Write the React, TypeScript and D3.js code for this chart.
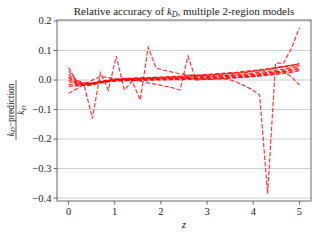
import React from "react";
import * as d3 from "d3";

const zValues = [0, 0.172, 0.345, 0.517, 0.69, 0.862, 1.034, 1.207, 1.379, 1.552, 1.724, 1.897, 2.069, 2.241, 2.414, 2.586, 2.759, 2.931, 3.103, 3.276, 3.448, 3.621, 3.793, 3.966, 4.138, 4.31, 4.483, 4.655, 4.828, 5.0];

const modelA = [0.042, -0.004, -0.022, -0.13, 0.025, -0.034, 0.081, -0.034, -0.004, -0.068, 0.111, 0.04, 0.033, 0.027, 0.021, 0.017, 0.016, 0.016, 0.017, 0.019, 0.021, 0.023, 0.025, 0.028, 0.031, 0.035, 0.04, 0.045, 0.05, 0.055];
const modelB = [-0.045, -0.03, -0.014, 0.0, 0.012, 0.008, 0.004, 0.002, 0.0, -0.004, -0.01, -0.015, -0.02, -0.026, -0.034, 0.081, 0.0, 0.002, 0.003, 0.005, 0.006, 0.008, 0.01, 0.012, 0.015, 0.018, 0.022, 0.026, 0.03, 0.035];
const modelD = [0.012, -0.008, -0.013, -0.011, -0.006, -0.002, 0.001, 0.003, 0.004, 0.005, 0.006, 0.006, 0.006, 0.006, 0.006, 0.005, 0.004, 0.003, 0.003, 0.003, 0.003, -0.006, -0.018, -0.032, -0.05, -0.385, 0.057, 0.057, 0.108, 0.177];
const modelE = [0.0, -0.01, -0.014, -0.012, -0.007, -0.003, 0.0, 0.002, 0.003, 0.004, 0.005, 0.006, 0.007, 0.008, 0.009, 0.01, 0.011, 0.012, 0.013, 0.014, 0.015, 0.016, 0.017, 0.018, 0.021, 0.025, 0.028, 0.028, 0.011, -0.017];
const modelC1 = [0.02, -0.005, -0.012, -0.01, -0.004, 0.0, 0.003, 0.005, 0.006, 0.007, 0.008, 0.009, 0.01, 0.011, 0.012, 0.013, 0.015, 0.016, 0.018, 0.02, 0.022, 0.024, 0.027, 0.03, 0.033, 0.037, 0.041, 0.046, 0.051, 0.056];
const modelC2 = [0.008, -0.012, -0.016, -0.013, -0.007, -0.003, 0.0, 0.002, 0.003, 0.004, 0.005, 0.005, 0.006, 0.007, 0.008, 0.009, 0.01, 0.011, 0.012, 0.014, 0.016, 0.018, 0.02, 0.023, 0.026, 0.029, 0.033, 0.037, 0.042, 0.048];
const modelC3 = [-0.005, -0.015, -0.018, -0.015, -0.009, -0.005, -0.002, 0.0, 0.001, 0.002, 0.003, 0.003, 0.004, 0.005, 0.005, 0.006, 0.007, 0.008, 0.009, 0.01, 0.012, 0.013, 0.015, 0.018, 0.021, 0.024, 0.028, 0.032, 0.037, 0.043];
const modelC4 = [-0.015, -0.018, -0.019, -0.016, -0.01, -0.006, -0.003, -0.002, -0.001, 0.0, 0.001, 0.001, 0.002, 0.003, 0.003, 0.004, 0.005, 0.006, 0.007, 0.008, 0.009, 0.01, 0.012, 0.014, 0.017, 0.02, 0.024, 0.028, 0.033, 0.038];
const modelC5 = [-0.022, -0.02, -0.017, -0.013, -0.008, -0.005, -0.003, -0.002, -0.002, -0.001, -0.001, 0.0, 0.0, 0.001, 0.001, 0.002, 0.003, 0.004, 0.005, 0.006, 0.007, 0.008, 0.009, 0.011, 0.013, 0.016, 0.019, 0.022, 0.026, 0.031];
const modelC6 = [0.03, 0.0, -0.01, -0.011, -0.006, -0.002, 0.002, 0.004, 0.006, 0.007, 0.008, 0.009, 0.01, 0.012, 0.013, 0.015, 0.016, 0.018, 0.02, 0.022, 0.024, 0.026, 0.029, 0.032, 0.035, 0.038, 0.042, 0.045, 0.048, 0.05];

const models = [modelC1, modelC2, modelC3, modelC4, modelC5, modelC6, modelE, modelB, modelA, modelD];

const xTicks = [0, 1, 2, 3, 4, 5];
const yTicks = [-0.4, -0.3, -0.2, -0.1, 0.0, 0.1, 0.2];

const FONT = "'Liberation Serif', 'DejaVu Serif', serif";

export default function App() {
  const left = 57, right = 311, top = 20, bottom = 201;
  const x = d3.scaleLinear().domain([-0.25, 5.25]).range([left, right]);
  const y = d3.scaleLinear().domain([-0.41, 0.2034]).range([bottom, top]);
  const line = d3
    .line<number>()
    .x((_, i) => x(zValues[i]))
    .y((d) => y(d));
  const fmt = (v: number) => {
    const s = Math.abs(v).toFixed(1);
    return v < -1e-9 ? "\u2212" + s : s;
  };

  return (
    <svg width={320} height={240} style={{ position: "absolute", left: 0, top: 0, background: "#fff" }}>
      <rect x={0} y={0} width={320} height={240} fill="#fff" />
      {yTicks.map((t) => (
        <line key={"g" + t} x1={left} x2={right} y1={y(t)} y2={y(t)} stroke="#cfcfcf" strokeWidth={1} />
      ))}
      <defs>
        <clipPath id="clip">
          <rect x={left} y={top} width={right - left} height={bottom - top} />
        </clipPath>
      </defs>
      <g clipPath="url(#clip)">
        {models.map((m, i) => (
          <path
            key={i}
            d={line(m) || ""}
            fill="none"
            stroke="#ff0000"
            strokeOpacity={0.8}
            strokeWidth={1.2}
            strokeDasharray="4.4,1.9"
          />
        ))}
      </g>
      <rect x={left} y={top} width={right - left} height={bottom - top} fill="none" stroke="#444" strokeWidth={0.8} />
      {yTicks.map((t) => (
        <g key={"y" + t}>
          <line x1={left - 3.5} x2={left} y1={y(t)} y2={y(t)} stroke="#444" strokeWidth={0.8} />
          <text x={left - 5.5} y={y(t)} dy="0.33em" textAnchor="end" fontFamily={FONT} fontSize={10.5} fill="#222">
            {fmt(t)}
          </text>
        </g>
      ))}
      {xTicks.map((t) => (
        <g key={"x" + t}>
          <line x1={x(t)} x2={x(t)} y1={bottom} y2={bottom + 3.5} stroke="#444" strokeWidth={0.8} />
          <text x={x(t)} y={bottom + 13.5} textAnchor="middle" fontFamily={FONT} fontSize={10.5} fill="#222">
            {t}
          </text>
        </g>
      ))}
      <text x={(left + right) / 2} y={228} textAnchor="middle" fontFamily={FONT} fontSize={11} fontStyle="italic" fill="#222">
        z
      </text>
      <text x={(left + right) / 2} y={15} textAnchor="middle" fontFamily={FONT} fontSize={11} fill="#222">
        Relative accuracy of <tspan fontStyle="italic">k</tspan>
        <tspan fontStyle="italic" fontSize={8} dy={2}>D</tspan>
        <tspan dy={-2}>, multiple 2-region models</tspan>
      </text>
      <g transform="translate(16,110) rotate(-90)">
        <text x={0} y={-2.5} textAnchor="middle" fontFamily={FONT} fontSize={9.5} fill="#222">
          <tspan fontStyle="italic">k</tspan>
          <tspan fontStyle="italic" fontSize={7} dy={1.5}>D</tspan>
          <tspan dy={-1.5}>{"\u2212prediction"}</tspan>
        </text>
        <line x1={-30} x2={30} y1={0} y2={0} stroke="#222" strokeWidth={0.7} />
        <text x={0} y={8} textAnchor="middle" fontFamily={FONT} fontSize={9.5} fill="#222">
          <tspan fontStyle="italic">k</tspan>
          <tspan fontStyle="italic" fontSize={7} dy={1.5}>D</tspan>
        </text>
      </g>
    </svg>
  );
}
